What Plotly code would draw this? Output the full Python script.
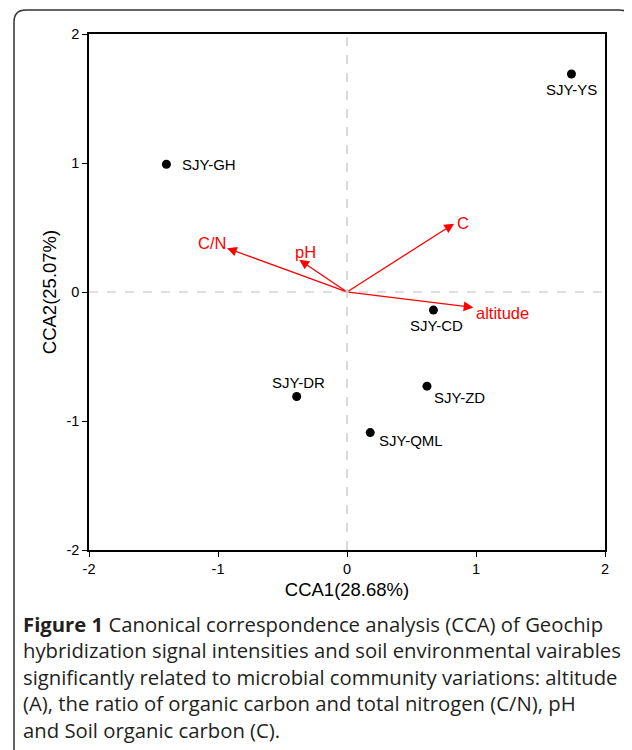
import plotly.graph_objects as go

# Sample scores
sites = ["SJY-YS", "SJY-GH", "SJY-CD", "SJY-ZD", "SJY-DR", "SJY-QML"]
site_x = [1.74, -1.40, 0.67, 0.62, -0.39, 0.18]
site_y = [1.69, 0.99, -0.14, -0.73, -0.81, -1.09]

# Environmental vectors
env = ["C/N", "pH", "C", "altitude"]
env_x = [-0.93, -0.37, 0.83, 0.98]
env_y = [0.34, 0.25, 0.53, -0.12]

x_ticks = [-2, -1, 0, 1, 2]
y_ticks = [-2, -1, 0, 1, 2]
tick_text = ["-2", "-1", "0", "1", "2"]

caption = ("<b>Figure 1</b> Canonical correspondence analysis (CCA) of Geochip<br>"
           "hybridization signal intensities and soil environmental vairables<br>"
           "significantly related to microbial community variations: altitude<br>"
           "(A), the ratio of organic carbon and total nitrogen (C/N), pH<br>"
           "and Soil organic carbon (C).")

# label placement (xanchor, xshift, yshift) in px
site_lab = {"SJY-YS": ("center", 0, -16), "SJY-GH": ("left", 14, 0),
            "SJY-CD": ("center", 3, -15), "SJY-ZD": ("left", 5, -11),
            "SJY-DR": ("center", 2, 14), "SJY-QML": ("left", 7, -8)}
env_lab = {"C/N": ("center", -15, 5), "pH": ("center", 6, 8),
           "C": ("left", 1, 1), "altitude": ("center", 29, -6)}

fig = go.Figure()

fig.add_trace(go.Scatter(
    x=site_x, y=site_y, mode="markers",
    marker=dict(color="black", size=9),
    showlegend=False, cliponaxis=False))

annotations = []
for name, sx, sy in zip(sites, site_x, site_y):
    xa, dx, dy = site_lab[name]
    annotations.append(dict(
        x=sx, y=sy, xref="x", yref="y", text=name, showarrow=False,
        xanchor=xa, xshift=dx, yshift=dy,
        font=dict(family="Liberation Sans, Arial", size=15, color="black")))

for name, ex, ey in zip(env, env_x, env_y):
    annotations.append(dict(
        x=ex, y=ey, ax=0, ay=0, xref="x", yref="y", axref="x", ayref="y",
        text="", showarrow=True, arrowhead=2, arrowsize=1.5, arrowwidth=1.3,
        arrowcolor="red"))

for name, ex, ey in zip(env, env_x, env_y):
    xa, dx, dy = env_lab[name]
    annotations.append(dict(
        x=ex, y=ey, xref="x", yref="y", text=name, showarrow=False,
        xanchor=xa, xshift=dx, yshift=dy,
        font=dict(family="Liberation Sans, Arial", size=16.5, color="red")))

annotations.append(dict(
    x=-68 / 516, y=-(608 - 550) / 516, xref="paper", yref="paper",
    xanchor="left", yanchor="top", align="left", showarrow=False,
    text=caption,
    font=dict(family="Open Sans", size=20.3, color="#231f20")))

# rounded border (paper units; plot area is 516 px square)
def px(v):
    return v / 516.0

L, R, T, B, r = px(14 - 89), px(631 - 89), px(550 - 10), px(550 - 770), px(12)
border = (f"M {L + r},{T} L {R - r},{T} Q {R},{T} {R},{T - r} "
          f"L {R},{B + r} Q {R},{B} {R - r},{B} L {L + r},{B} "
          f"Q {L},{B} {L},{B + r} L {L},{T - r} Q {L},{T} {L + r},{T} Z")

fig.update_layout(
    width=624, height=742,
    margin=dict(l=81, r=27, t=26, b=200),
    paper_bgcolor="white", plot_bgcolor="white",
    annotations=annotations,
    font=dict(family="Liberation Sans, Arial", color="black"),
    xaxis=dict(range=[-2, 2], tickvals=x_ticks, ticktext=tick_text,
               ticks="outside", ticklen=5, tickcolor="black",
               showgrid=False, zeroline=False, showline=True, linecolor="black",
               linewidth=1.5, mirror=True, tickfont=dict(size=14.5),
               title=dict(text="CCA1(28.68%)", font=dict(size=18.5), standoff=7)),
    yaxis=dict(range=[-2, 2], tickvals=y_ticks, ticktext=tick_text,
               ticks="outside", ticklen=5, tickcolor="black",
               showgrid=False, zeroline=False, showline=True, linecolor="black",
               linewidth=1.5, mirror=True, tickfont=dict(size=14.5),
               title=dict(text="CCA2(25.07%)", font=dict(size=18.5), standoff=5)),
    shapes=[
        dict(type="line", xref="x", yref="y", x0=0, x1=0, y0=-2, y1=2,
             line=dict(color="#c0c0c0", width=1.2, dash="dash"), layer="below"),
        dict(type="line", xref="x", yref="y", x0=-2, x1=2, y0=0, y1=0,
             line=dict(color="#c0c0c0", width=1.2, dash="dash"), layer="below"),
        dict(type="path", xref="paper", yref="paper", path=border,
             line=dict(color="#333333", width=1.5)),
    ],
)

fig.write_html("out.html")
